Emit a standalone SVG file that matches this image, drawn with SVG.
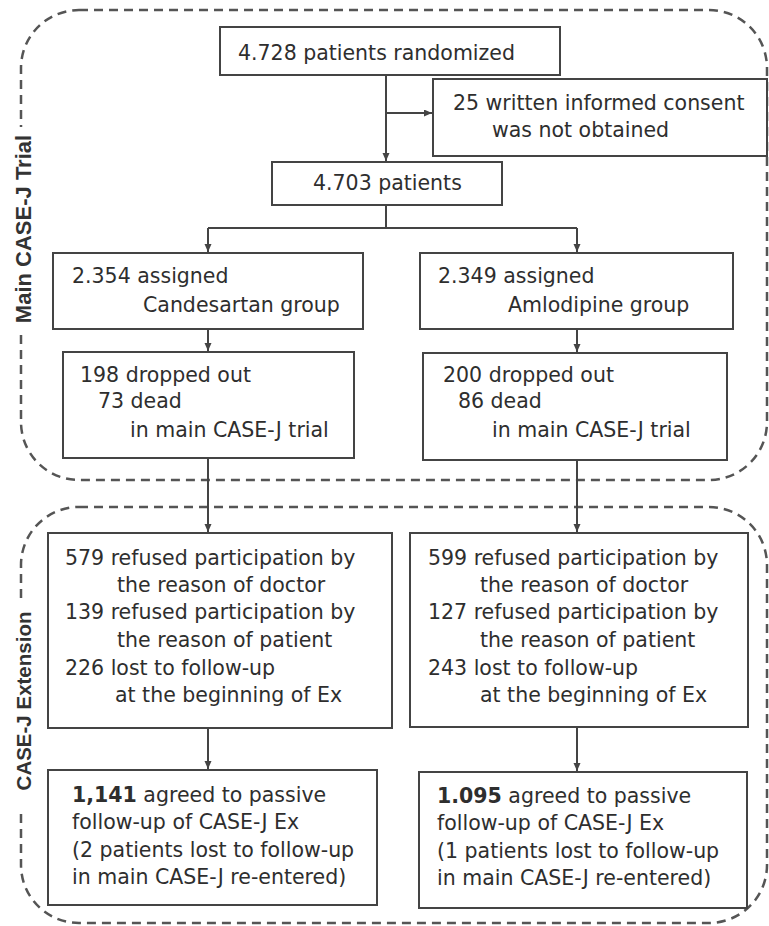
<svg xmlns="http://www.w3.org/2000/svg" width="769" height="926" viewBox="0 0 769 926">
<style>
.bg{fill:#ffffff}
.region{fill:none;stroke:#555;stroke-width:2.5;stroke-dasharray:9 6}
.box{fill:#ffffff;stroke:#444;stroke-width:2}
.t{font-family:"DejaVu Sans","Liberation Sans",sans-serif;font-size:20.5px;fill:#2e2e2e}
.b{font-weight:bold}
.lab{font-family:"Liberation Sans",Arial,sans-serif;font-weight:bold;fill:#333}
.mask{fill:#ffffff}
.conn{fill:none;stroke:#444;stroke-width:2}
</style>
<defs>
<marker id="arr" markerUnits="userSpaceOnUse" markerWidth="9" markerHeight="8" refX="8" refY="3.5" orient="auto">
<path d="M0,0 L8,3.5 L0,7 z" fill="#444"/>
</marker>
</defs>
<rect class="bg" x="0" y="0" width="769" height="926"/>

<g id="region-main">
<rect class="region" x="21" y="10" width="746" height="470" rx="58" ry="58"/>
<rect class="mask" x="10" y="127" width="26" height="208"/>
<text class="lab" font-size="22" transform="translate(31,229) rotate(-90)" text-anchor="middle">Main CASE-J Trial</text>
</g>
<g id="region-ext">
<rect class="region" x="21" y="507" width="746" height="416" rx="58" ry="58"/>
<rect class="mask" x="10" y="601" width="26" height="212"/>
<text class="lab" font-size="20.5" transform="translate(31,701) rotate(-90)" text-anchor="middle">CASE-J Extension</text>
</g>

<g id="connectors">
<path class="conn" d="M386,75 V161" marker-end="url(#arr)"/>
<path class="conn" d="M386,113 H432" marker-end="url(#arr)"/>
<path class="conn" d="M386,205 V228 M208,228 H577"/>
<path class="conn" d="M208,228 V252" marker-end="url(#arr)"/>
<path class="conn" d="M577,228 V252" marker-end="url(#arr)"/>
<path class="conn" d="M208,329 V351" marker-end="url(#arr)"/>
<path class="conn" d="M577,329 V352" marker-end="url(#arr)"/>
<path class="conn" d="M208,458 V532" marker-end="url(#arr)"/>
<path class="conn" d="M577,460 V532" marker-end="url(#arr)"/>
<path class="conn" d="M208,728 V769" marker-end="url(#arr)"/>
<path class="conn" d="M577,727 V771" marker-end="url(#arr)"/>
</g>

<g id="randomized">
<rect class="box" x="220" y="27" width="340" height="48"/>
<text class="t" x="238" y="60">4.728 patients randomized</text>
</g>
<g id="no-consent">
<rect class="box" x="433" y="79" width="334" height="77"/>
<text class="t" x="453" y="110">25 written informed consent</text>
<text class="t" x="492" y="137">was not obtained</text>
</g>
<g id="patients-4703">
<rect class="box" x="272" y="162" width="230" height="43"/>
<text class="t" x="313" y="190">4.703 patients</text>
</g>
<g id="candesartan">
<rect class="box" x="53" y="253" width="310" height="76"/>
<text class="t" x="72" y="283">2.354 assigned</text>
<text class="t" x="143" y="312">Candesartan group</text>
</g>
<g id="amlodipine">
<rect class="box" x="420" y="253" width="313" height="76"/>
<text class="t" x="438" y="283">2.349 assigned</text>
<text class="t" x="508" y="312">Amlodipine group</text>
</g>
<g id="dropped-left">
<rect class="box" x="63" y="352" width="291" height="106"/>
<text class="t" x="80" y="382">198 dropped out</text>
<text class="t" x="98" y="408">73 dead</text>
<text class="t" x="130" y="437">in main CASE-J trial</text>
</g>
<g id="dropped-right">
<rect class="box" x="423" y="353" width="304" height="107"/>
<text class="t" x="443" y="382">200 dropped out</text>
<text class="t" x="458" y="408">86 dead</text>
<text class="t" x="492" y="437">in main CASE-J trial</text>
</g>
<g id="refused-left">
<rect class="box" x="48" y="533" width="344" height="195"/>
<text class="t" x="65" y="565">579 refused participation by</text>
<text class="t" x="117" y="592">the reason of doctor</text>
<text class="t" x="65" y="619">139 refused participation by</text>
<text class="t" x="117" y="647">the reason of patient</text>
<text class="t" x="65" y="675">226 lost to follow-up</text>
<text class="t" x="115" y="702">at the beginning of Ex</text>
</g>
<g id="refused-right">
<rect class="box" x="410" y="533" width="338" height="194"/>
<text class="t" x="428" y="565">599 refused participation by</text>
<text class="t" x="480" y="592">the reason of doctor</text>
<text class="t" x="428" y="619">127 refused participation by</text>
<text class="t" x="480" y="647">the reason of patient</text>
<text class="t" x="428" y="675">243 lost to follow-up</text>
<text class="t" x="480" y="702">at the beginning of Ex</text>
</g>
<g id="agreed-left">
<rect class="box" x="48" y="770" width="329" height="135"/>
<text class="t" x="72" y="802"><tspan class="b">1,141</tspan> agreed to passive</text>
<text class="t" x="72" y="829">follow-up of CASE-J Ex</text>
<text class="t" x="72" y="857">(2 patients lost to follow-up</text>
<text class="t" x="72" y="884">in main CASE-J re-entered)</text>
</g>
<g id="agreed-right">
<rect class="box" x="419" y="772" width="328" height="136"/>
<text class="t" x="437" y="803"><tspan class="b">1.095</tspan> agreed to passive</text>
<text class="t" x="437" y="830">follow-up of CASE-J Ex</text>
<text class="t" x="437" y="858">(1 patients lost to follow-up</text>
<text class="t" x="437" y="885">in main CASE-J re-entered)</text>
</g>
</svg>
